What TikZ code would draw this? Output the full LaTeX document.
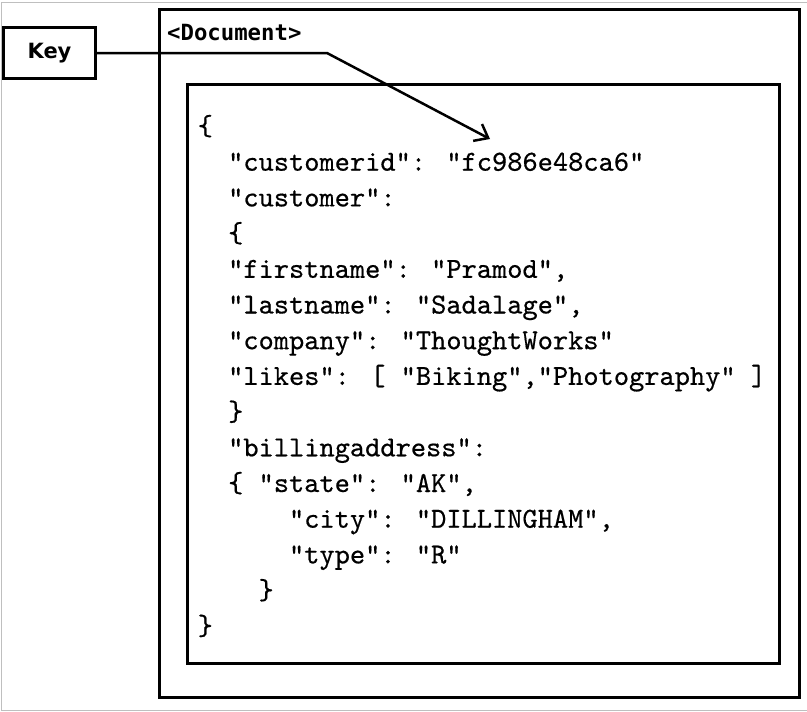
\documentclass[tikz,border=0pt]{standalone}
\usepackage{fontspec}
\newfontfamily\jsonfont{lmmono10-regular.otf}[FakeBold=0.5]
\newfontfamily\labelfont{DejaVu Sans}
\newfontfamily\labelmono{DejaVu Sans Mono}
\usetikzlibrary{arrows.meta,positioning,shadows}

\tikzset{
  box/.style={draw,line width=3pt,fill=white,
    drop shadow={shadow xshift=1.5pt,shadow yshift=-1.5pt,fill=black!30}},
  keybox/.style={box,minimum width=92pt,minimum height=51pt,inner sep=0pt,
    font=\labelfont\bfseries\fontsize{21}{24}\selectfont},
  doclabel/.style={inner sep=0pt,font=\labelmono\bfseries\fontsize{22.3}{26}\selectfont},
  jsonline/.style={inner sep=0pt,anchor=base west,font=\jsonfont\fontsize{29}{33}\selectfont},
  link/.style={line width=2.5pt,line join=miter}
}

\begin{document}
\begin{tikzpicture}[x=1pt,y=-1pt]
\useasboundingbox (0,0) rectangle (807,712);
% frame of the screenshot
\draw[black!25,line width=1pt] (807,2.5) -- (1,2.5) -- (1,710) -- (807,710);

% document and its body
\draw[box] (159,9) rectangle (799,697);
\node[doclabel,anchor=base west] (doctitle) at (167,40.5) {<Document>};
\draw[box] (187,84) rectangle (779,663);

% the json text, one node per line
\foreach \ind/\txt [count=\i] in {
  0/\{,
  2/{"customerid": "fc986e48ca6"},
  2/{"customer":},
  2/\{,
  2/{"firstname": "Pramod",},
  2/{"lastname": "Sadalage",},
  2/{"company": "ThoughtWorks"},
  2/{"likes": [ "Biking","Photography" ]},
  2/\},
  2/{"billingaddress":},
  2/{\{ "state": "AK",},
  6/{"city": "DILLINGHAM",},
  6/{"type": "R"},
  4/\},
  0/\}}
  \node[jsonline] (line\i) at ({197.5+15.22*\ind},{135+35.7*(\i-1)}) {\txt};

% key pointing into the document
\node[keybox] (key) at (49.5,53) {Key};
\coordinate (bend) at (327,53);
\coordinate (target) at (490,139);
\draw[link,-{Straight Barb[length=12pt,width=19pt]}] (key) -- (bend) -- (target);
\end{tikzpicture}
\end{document}
